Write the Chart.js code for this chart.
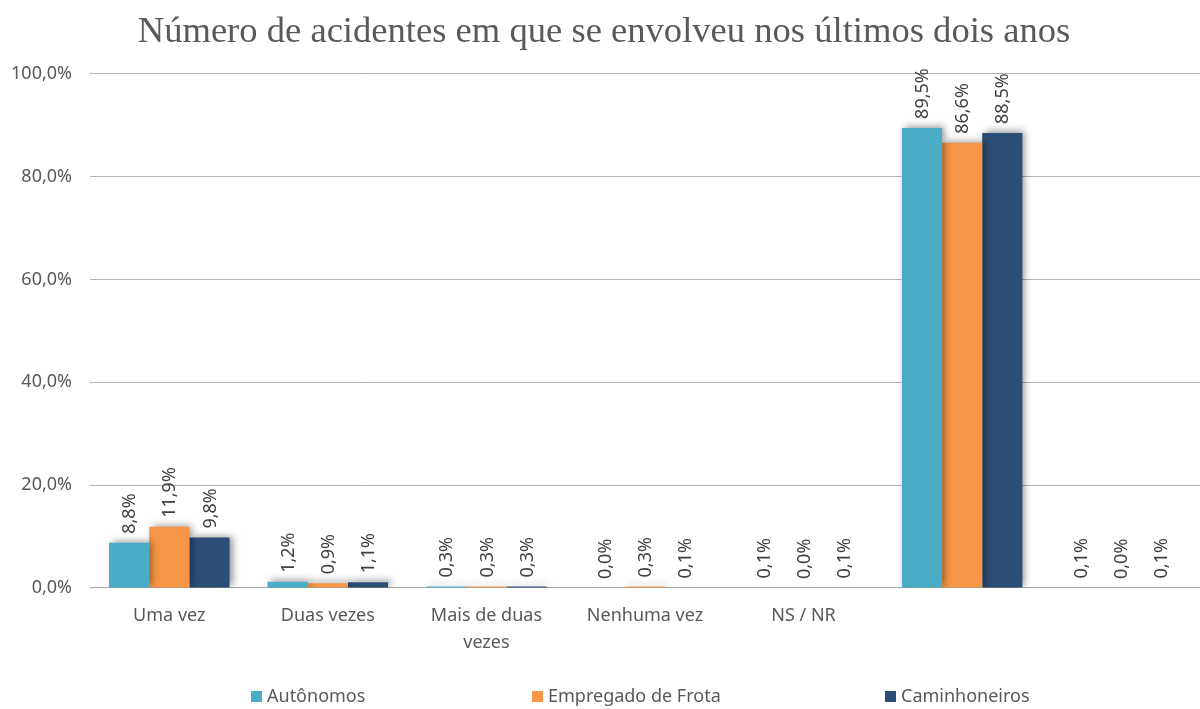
<!DOCTYPE html>
<html>
<head>
<meta charset="utf-8">
<script src="https://cdn.jsdelivr.net/npm/chart.js@4/dist/chart.umd.min.js"></script>
<style>
  html, body { margin: 0; padding: 0; background: #fff; }
  #wrap { width: 1200px; height: 709px; }
</style>
</head>
<body>
<div id="wrap"><canvas id="myChart" width="1200" height="709"></canvas></div>
<script>
// Accident counts over the last two years, by driver group (%)
var categories = ['Uma vez', 'Duas vezes', ['Mais de duas', 'vezes'], 'Nenhuma vez', 'NS / NR', '', ''];
var autonomos = [8.8, 1.2, 0.3, 0.0, 0.1, 89.5, 0.1];
var empregado = [11.9, 0.9, 0.3, 0.3, 0.0, 86.6, 0.0];
var caminhoneiros = [9.8, 1.1, 0.3, 0.1, 0.1, 88.5, 0.1];
var yTicks = [0, 20, 40, 60, 80, 100];

// x of each legend entry's swatch
var legendX = [251, 532, 885];

function pct(v) {
    return v.toFixed(1).replace('.', ',') + '%';
}

// soft drop shadow under the bars
var barShadow = {
    id: 'barShadow',
    beforeDatasetsDraw: function(chart) {
        var ctx = chart.ctx;
        ctx.save();
        ctx.shadowColor = 'rgba(0,0,0,0.4)';
        ctx.shadowBlur = 7;
        ctx.shadowOffsetX = 3;
        ctx.shadowOffsetY = -2;
    },
    afterDatasetsDraw: function(chart) {
        chart.ctx.restore();
    }
};

// vertical value labels above each bar
var valueLabels = {
    id: 'valueLabels',
    afterDraw: function(chart) {
        var ctx = chart.ctx;
        ctx.save();
        ctx.font = '18px "Noto Sans"';
        ctx.fillStyle = '#404040';
        ctx.textAlign = 'left';
        ctx.textBaseline = 'middle';
        chart.data.datasets.forEach(function(ds, i) {
            chart.getDatasetMeta(i).data.forEach(function(bar, j) {
                ctx.save();
                ctx.translate(bar.x + 1, bar.y - 9);
                ctx.rotate(-Math.PI / 2);
                ctx.fillText(pct(ds.data[j]), 0, 0);
                ctx.restore();
            });
        });
        ctx.restore();
    }
};

// legend spread across the bottom
var bottomLegend = {
    id: 'bottomLegend',
    afterDraw: function(chart) {
        var ctx = chart.ctx;
        var y = chart.height - 12;
        ctx.save();
        ctx.font = '18px "Noto Sans"';
        ctx.textAlign = 'left';
        ctx.textBaseline = 'middle';
        chart.data.datasets.forEach(function(ds, i) {
            ctx.fillStyle = ds.backgroundColor;
            ctx.fillRect(legendX[i], y - 6, 11, 11);
            ctx.fillStyle = '#595959';
            ctx.fillText(ds.label, legendX[i] + 16, y);
        });
        ctx.restore();
    }
};

var ctx = document.getElementById('myChart').getContext('2d');
var myChart = new Chart(ctx, {
    type: 'bar',
    data: {
        labels: categories,
        datasets: [
            { label: 'Autônomos', data: autonomos, backgroundColor: '#4BACC6' },
            { label: 'Empregado de Frota', data: empregado, backgroundColor: '#F79646' },
            { label: 'Caminhoneiros', data: caminhoneiros, backgroundColor: '#2C4D75' }
        ]
    },
    options: {
        responsive: false,
        animation: false,
        layout: { padding: { left: 8, right: 0, top: 0, bottom: 39 } },
        datasets: {
            bar: { categoryPercentage: 0.76, barPercentage: 1.0 }
        },
        plugins: {
            title: {
                display: true,
                text: 'Número de acidentes em que se envolveu nos últimos dois anos',
                color: '#595959',
                font: { family: '"Liberation Serif"', size: 36.6, weight: 'normal' },
                padding: { top: 10, bottom: 20 }
            },
            legend: { display: false },
            tooltip: { enabled: false }
        },
        scales: {
            x: {
                grid: { display: false, drawTicks: false },
                border: { color: '#A6A6A6' },
                ticks: {
                    color: '#595959',
                    font: { family: '"Noto Sans"', size: 18, lineHeight: 1.5 },
                    padding: 14,
                    maxRotation: 0
                }
            },
            y: {
                min: 0,
                max: 100,
                afterBuildTicks: function(axis) {
                    axis.ticks = yTicks.map(function(v) { return { value: v }; });
                },
                afterFit: function(axis) {
                    axis.width = 82;
                },
                grid: { color: '#B3B3B3', drawTicks: false },
                border: { display: false },
                ticks: {
                    color: '#595959',
                    font: { family: '"Noto Sans"', size: 18 },
                    padding: 18,
                    callback: function(v) { return pct(v); }
                }
            }
        }
    },
    plugins: [barShadow, valueLabels, bottomLegend]
});
</script>
</body>
</html>
